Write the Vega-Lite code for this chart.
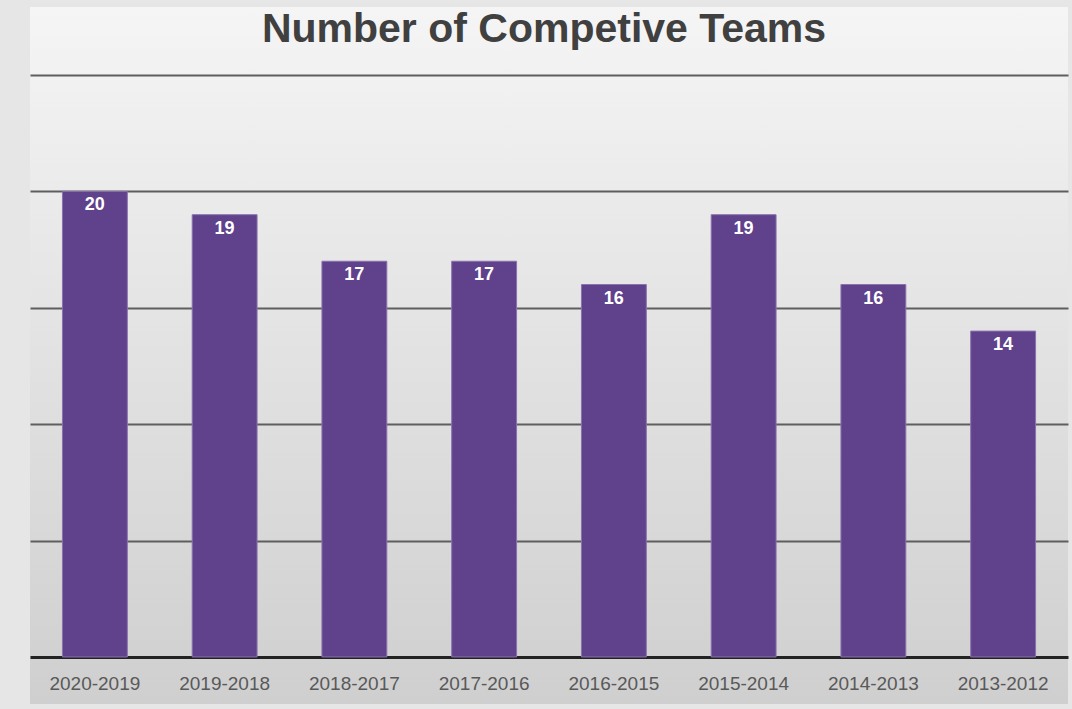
{
  "$schema": "https://vega.github.io/schema/vega-lite/v6.json",
  "autosize": {"type": "none"},
  "width": 1038,
  "height": 697,
  "padding": {"left": 30, "top": 7, "right": 4, "bottom": 5},
  "background": "#e6e6e6",
  "config": {
    "view": {
      "stroke": null,
      "fill": {"gradient": "linear", "x1": 0, "y1": 0, "x2": 0, "y2": 1,
        "stops": [{"offset": 0, "color": "#f5f5f5"}, {"offset": 1, "color": "#cfcfcf"}]}
    },
    "font": "Liberation Sans"
  },
  "title": {
    "text": "Number of Competive Teams",
    "fontSize": 41,
    "fontWeight": "bold",
    "color": "#404040",
    "font": "Liberation Sans",
    "anchor": "middle",
    "baseline": "alphabetic",
    "offset": -44,
    "dy": 32,
    "dx": -5
  },
  "data": {
    "values": [
      {"season": "2020-2019", "teams": 20},
      {"season": "2019-2018", "teams": 19},
      {"season": "2018-2017", "teams": 17},
      {"season": "2017-2016", "teams": 17},
      {"season": "2016-2015", "teams": 16},
      {"season": "2015-2014", "teams": 19},
      {"season": "2014-2013", "teams": 16},
      {"season": "2013-2012", "teams": 14}
    ]
  },
  "encoding": {
    "x": {
      "field": "season", "type": "nominal", "sort": null, "title": null,
      "scale": {"paddingInner": 0.5, "paddingOuter": 0.25},
      "axis": {
        "domain": false, "ticks": false, "labelAngle": 0,
        "labelFontSize": 19, "labelColor": "#595959", "labelPadding": 2,
        "offset": -32, "labelFont": "Liberation Sans"
      }
    },
    "y": {
      "field": "teams", "type": "quantitative", "title": null,
      "scale": {"domain": [-2.019, 27.921], "nice": false, "zero": false},
      "axis": {
        "values": [0, 5, 10, 15, 20, 25],
        "labels": false, "domain": false, "ticks": false,
        "gridColor": {"condition": {"test": "datum.value === 0", "value": "#222222"}, "value": "#5e5e5e"},
        "gridWidth": {"condition": {"test": "datum.value === 0", "value": 3}, "value": 2},
        "gridOpacity": 1
      }
    }
  },
  "layer": [
    {"mark": {"type": "bar", "color": "#60418c", "stroke": "#8a73ad", "strokeWidth": 1}, "encoding": {"y2": {"datum": 0}}},
    {
      "mark": {"type": "text", "color": "#ffffff", "fontWeight": "bold", "fontSize": 18, "baseline": "top", "dy": 5, "font": "Liberation Sans"},
      "encoding": {"text": {"field": "teams", "type": "quantitative"}}
    }
  ]
}
